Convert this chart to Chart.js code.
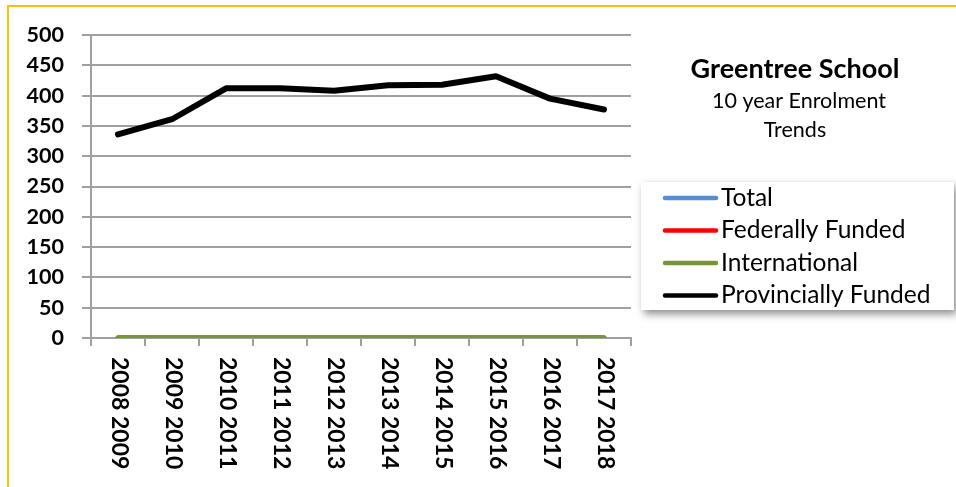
<!DOCTYPE html>
<html>
<head>
<meta charset="utf-8">
<script src="https://cdn.jsdelivr.net/npm/chart.js@4"></script>
<style>
  html, body { margin: 0; padding: 0; background: #fff; }
  #wrap { position: relative; width: 956px; height: 487px; overflow: hidden; }
  #frame {
    position: absolute; left: 7px; top: 5px; width: 1000px; height: 480px;
    border-top: 2px solid #FFC000; border-left: 2px solid #FFC000;
    border-bottom: 1px solid #FFF2CC; pointer-events: none;
  }
  canvas { position: absolute; left: 0; top: 0; }
</style>
</head>
<body>
<div id="wrap">
  <canvas id="c" width="956" height="487"></canvas>
  <div id="frame"></div>
</div>
<script>
// School years on the category axis
const years = ["2008 2009", "2009 2010", "2010 2011", "2011 2012", "2012 2013",
               "2013 2014", "2014 2015", "2015 2016", "2016 2017", "2017 2018"];

// Enrolment per funding stream
const total         = [0, 0, 0, 0, 0, 0, 0, 0, 0, 0];
const federally     = [0, 0, 0, 0, 0, 0, 0, 0, 0, 0];
const international = [0, 0, 0, 0, 0, 0, 0, 0, 0, 0];
const provincially  = [336, 361, 412, 412, 408, 417, 418, 432, 395, 377];

// Value axis
const yMin = 0, yMax = 500, yStep = 50;

const titleLines = ["Greentree School", "10 year Enrolment", "Trends"];

const GRID = '#a0a0a0';

// Vertical (clockwise) category labels
const verticalLabels = {
  id: 'verticalLabels',
  afterDraw(chart) {
    const ctx = chart.ctx, xs = chart.scales.x;
    ctx.save();
    ctx.font = 'bold 23px Lato';
    ctx.fillStyle = '#000';
    ctx.textAlign = 'left';
    ctx.textBaseline = 'middle';
    chart.data.labels.forEach((lab, i) => {
      const x = xs.getPixelForValue(i);
      ctx.save();
      ctx.translate(x + 1, xs.top + 19);
      ctx.rotate(Math.PI / 2);
      ctx.fillText(lab, 0, 0);
      ctx.restore();
    });
    ctx.restore();
  }
};

// Title block and boxed legend on the right
const sidePanel = {
  id: 'sidePanel',
  afterDraw(chart) {
    const ctx = chart.ctx;
    ctx.save();
    ctx.fillStyle = '#000';
    ctx.textAlign = 'center';
    ctx.textBaseline = 'middle';
    ctx.font = 'bold 27px Lato';
    ctx.fillText(titleLines[0], 795, 69);
    ctx.font = '21.5px Lato';
    ctx.fillText(titleLines[1], 799, 101);
    ctx.fillText(titleLines[2], 795, 130);

    // legend box with drop shadow
    ctx.save();
    ctx.shadowColor = 'rgba(0,0,0,0.45)';
    ctx.shadowBlur = 8;
    ctx.shadowOffsetX = 3;
    ctx.shadowOffsetY = 4;
    ctx.fillStyle = '#fff';
    ctx.fillRect(641, 182, 313, 128);
    ctx.restore();

    const rowY = [198, 230.5, 263, 295.5];
    ctx.textAlign = 'left';
    ctx.font = '24.5px Lato';
    chart.data.datasets.forEach((ds, i) => {
      const y = rowY[i];
      ctx.beginPath();
      ctx.moveTo(665, y);
      ctx.lineTo(716, y);
      ctx.lineWidth = 4.5;
      ctx.lineCap = 'round';
      ctx.strokeStyle = ds.borderColor;
      ctx.stroke();
      ctx.fillStyle = '#000';
      ctx.fillText(ds.label, 721, y);
    });
    ctx.restore();
  }
};

new Chart(document.getElementById('c'), {
  type: 'line',
  data: {
    labels: years,
    datasets: [
      { label: 'Total', data: total, borderColor: '#558ED5', borderWidth: 5, order: 3 },
      { label: 'Federally Funded', data: federally, borderColor: '#FF0000', borderWidth: 5, order: 2 },
      { label: 'International', data: international, borderColor: '#77933C', borderWidth: 5, order: 1 },
      { label: 'Provincially Funded', data: provincially, borderColor: '#000000', borderWidth: 6, order: 0 }
    ]
  },
  options: {
    responsive: false,
    animation: false,
    devicePixelRatio: 1,
    layout: { padding: { left: 0, top: 35, right: 325, bottom: 0 } },
    elements: {
      point: { radius: 0 },
      line: { tension: 0, borderCapStyle: 'round', borderJoinStyle: 'round' }
    },
    plugins: { legend: { display: false }, title: { display: false }, tooltip: { enabled: false } },
    scales: {
      x: {
        type: 'category',
        offset: true,
        grid: { display: true, drawOnChartArea: false, drawTicks: true, tickLength: 8, color: GRID, lineWidth: 2, offset: true },
        border: { color: GRID, width: 2 },
        ticks: { color: 'rgba(0,0,0,0)', font: { family: 'Lato', size: 23, weight: 'bold' }, minRotation: 90, maxRotation: 90 },
        afterFit(scale) { scale.height = 149; }
      },
      y: {
        min: yMin, max: yMax,
        grid: { color: GRID, lineWidth: 2, tickLength: 9 },
        border: { color: GRID, width: 2 },
        ticks: { stepSize: yStep, color: '#000', padding: 18, font: { family: 'Lato', size: 21.5, weight: 'bold' } },
        afterFit(scale) { scale.width = 91; }
      }
    }
  },
  plugins: [verticalLabels, sidePanel]
});
</script>
</body>
</html>
